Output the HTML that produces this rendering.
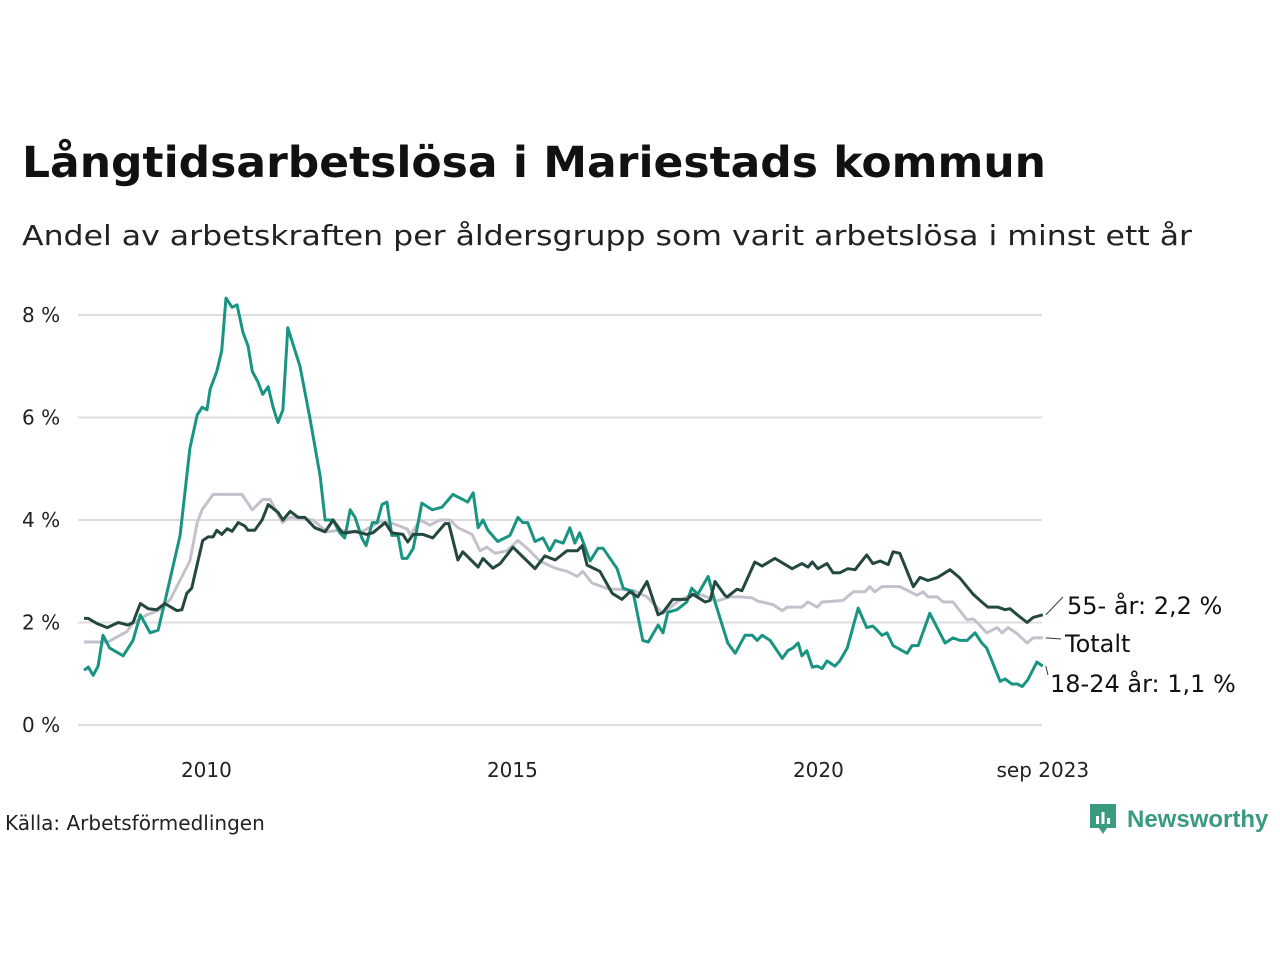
<!DOCTYPE html>
<html><head><meta charset="utf-8">
<style>
body{margin:0;background:#fff;font-family:"DejaVu Sans","Liberation Sans",sans-serif;}
#wrap{position:relative;width:1280px;height:960px;overflow:hidden;background:#fff}
.src{position:absolute;left:5px;top:811px;font-size:20px;color:#222;font-family:"DejaVu Sans",sans-serif}
</style></head><body>
<div id="wrap">
<svg id="chart" width="1280" height="960" style="position:absolute;left:0;top:0">
<text x="22" y="177" font-size="43" font-weight="bold" fill="#111" font-family="DejaVu Sans, sans-serif" textLength="1024" lengthAdjust="spacingAndGlyphs">Långtidsarbetslösa i Mariestads kommun</text>
<text x="22" y="245" font-size="28" fill="#222" font-family="DejaVu Sans, sans-serif" textLength="1170" lengthAdjust="spacingAndGlyphs">Andel av arbetskraften per åldersgrupp som varit arbetslösa i minst ett år</text>
</svg>
<div class="src">Källa: Arbetsförmedlingen</div>
<div style="position:absolute;left:1088px;top:802px;height:36px;display:flex;align-items:center">
<svg width="30" height="36" viewBox="0 0 30 36"><path d="M2 2h26v24h-9l-4 6-4-6H2z" fill="#3a9a80"/><rect x="8" y="14" width="3" height="8" fill="#fff"/><rect x="13.5" y="10" width="3" height="12" fill="#fff"/><rect x="19" y="16" width="3" height="6" fill="#fff"/></svg>
<span style="font-size:24px;font-weight:bold;color:#3a9a80;margin-left:9px;font-family:'Liberation Sans',sans-serif">Newsworthy</span>
</div>
</div>
<script>
const yTicks=[0,2,4,6,8];
const xTickYears=[2010,2015,2020,2023.667];
const xTickLabels=["2010","2015","2020","sep 2023"];
const youthDates=[2008.0,2008.07,2008.15,2008.23,2008.31,2008.42,2008.64,2008.80,2008.92,2009.08,2009.21,2009.32,2009.57,2009.73,2009.85,2009.93,2010.01,2010.06,2010.17,2010.25,2010.32,2010.42,2010.50,2010.60,2010.68,2010.75,2010.84,2010.92,2011.01,2011.09,2011.17,2011.25,2011.33,2011.53,2011.69,2011.86,2011.94,2012.07,2012.18,2012.26,2012.35,2012.43,2012.54,2012.61,2012.71,2012.79,2012.87,2012.95,2013.03,2013.13,2013.20,2013.28,2013.38,2013.52,2013.69,2013.85,2014.03,2014.27,2014.36,2014.44,2014.52,2014.60,2014.76,2014.96,2015.09,2015.17,2015.25,2015.37,2015.50,2015.61,2015.70,2015.83,2015.94,2016.02,2016.10,2016.27,2016.40,2016.48,2016.71,2016.81,2016.97,2017.13,2017.22,2017.38,2017.46,2017.54,2017.69,2017.85,2017.93,2018.03,2018.20,2018.31,2018.52,2018.64,2018.80,2018.92,2019.00,2019.08,2019.21,2019.41,2019.50,2019.58,2019.67,2019.73,2019.81,2019.90,2019.98,2020.06,2020.14,2020.27,2020.35,2020.47,2020.65,2020.79,2020.89,2021.04,2021.12,2021.22,2021.37,2021.45,2021.53,2021.63,2021.82,2021.94,2022.07,2022.20,2022.31,2022.43,2022.56,2022.67,2022.75,2022.97,2023.05,2023.16,2023.25,2023.33,2023.42,2023.57,2023.667];
const youthValues=[1.07,1.13,0.97,1.15,1.75,1.5,1.35,1.65,2.15,1.8,1.85,2.4,3.7,5.4,6.05,6.2,6.15,6.55,6.9,7.3,8.33,8.15,8.2,7.65,7.4,6.9,6.7,6.45,6.6,6.2,5.9,6.15,7.75,7.0,6.0,4.85,4.0,4.0,3.75,3.65,4.2,4.05,3.65,3.5,3.95,3.95,4.3,4.35,3.7,3.7,3.25,3.25,3.45,4.33,4.2,4.25,4.5,4.35,4.53,3.85,4.0,3.8,3.58,3.7,4.05,3.95,3.95,3.58,3.65,3.4,3.6,3.55,3.85,3.55,3.75,3.2,3.45,3.45,3.05,2.67,2.6,1.65,1.62,1.95,1.8,2.2,2.25,2.4,2.67,2.55,2.9,2.4,1.6,1.4,1.75,1.75,1.65,1.75,1.65,1.3,1.45,1.5,1.6,1.35,1.45,1.13,1.15,1.1,1.25,1.15,1.25,1.5,2.28,1.9,1.93,1.75,1.8,1.55,1.45,1.4,1.55,1.55,2.18,1.9,1.6,1.7,1.65,1.65,1.8,1.6,1.5,0.85,0.9,0.8,0.8,0.75,0.88,1.23,1.15];
const seniorDates=[2008.0,2008.07,2008.21,2008.38,2008.56,2008.72,2008.80,2008.92,2009.05,2009.19,2009.32,2009.52,2009.60,2009.68,2009.76,2009.94,2010.03,2010.11,2010.17,2010.25,2010.34,2010.42,2010.52,2010.63,2010.68,2010.79,2010.91,2011.01,2011.17,2011.25,2011.37,2011.50,2011.61,2011.77,2011.94,2012.07,2012.22,2012.30,2012.43,2012.62,2012.72,2012.92,2013.03,2013.21,2013.29,2013.38,2013.54,2013.70,2013.90,2013.96,2014.11,2014.19,2014.44,2014.52,2014.68,2014.80,2015.01,2015.24,2015.37,2015.53,2015.70,2015.89,2016.06,2016.14,2016.22,2016.43,2016.63,2016.79,2016.92,2017.05,2017.20,2017.38,2017.46,2017.62,2017.85,2017.95,2018.15,2018.23,2018.31,2018.47,2018.51,2018.67,2018.75,2018.96,2019.08,2019.29,2019.57,2019.73,2019.83,2019.90,2019.99,2020.14,2020.24,2020.35,2020.48,2020.60,2020.79,2020.89,2021.01,2021.14,2021.22,2021.33,2021.55,2021.66,2021.79,2021.95,2022.15,2022.31,2022.53,2022.67,2022.77,2022.93,2023.05,2023.13,2023.25,2023.41,2023.51,2023.667];
const seniorValues=[2.08,2.08,1.98,1.9,2.0,1.95,2.0,2.37,2.27,2.25,2.37,2.23,2.25,2.57,2.67,3.6,3.67,3.67,3.8,3.72,3.83,3.78,3.95,3.88,3.8,3.8,4.0,4.3,4.15,4.0,4.17,4.05,4.05,3.85,3.77,4.0,3.75,3.75,3.78,3.72,3.75,3.95,3.75,3.72,3.57,3.72,3.72,3.65,3.93,3.93,3.22,3.38,3.08,3.25,3.06,3.15,3.47,3.2,3.05,3.3,3.22,3.4,3.4,3.5,3.12,3.0,2.57,2.45,2.6,2.5,2.8,2.15,2.2,2.45,2.45,2.55,2.4,2.43,2.8,2.53,2.5,2.65,2.62,3.18,3.1,3.25,3.05,3.15,3.08,3.18,3.05,3.15,2.97,2.97,3.05,3.03,3.32,3.15,3.2,3.13,3.38,3.35,2.7,2.88,2.82,2.88,3.03,2.87,2.55,2.4,2.3,2.3,2.25,2.27,2.15,2.0,2.1,2.15];
const totalDates=[2008.0,2008.39,2008.54,2008.70,2008.80,2009.03,2009.24,2009.41,2009.73,2009.85,2009.93,2010.11,2010.58,2010.75,2010.92,2011.04,2011.24,2011.37,2011.74,2011.97,2012.18,2012.51,2012.84,2013.05,2013.29,2013.33,2013.49,2013.65,2013.82,2013.98,2014.11,2014.34,2014.47,2014.58,2014.72,2014.91,2015.09,2015.24,2015.45,2015.70,2015.89,2016.06,2016.15,2016.30,2016.56,2016.97,2017.20,2017.46,2017.69,2017.93,2018.11,2018.34,2018.56,2018.72,2018.92,2019.00,2019.26,2019.41,2019.49,2019.73,2019.83,2019.98,2020.06,2020.40,2020.57,2020.76,2020.84,2020.92,2021.04,2021.33,2021.50,2021.61,2021.71,2021.79,2021.94,2022.04,2022.20,2022.43,2022.53,2022.61,2022.75,2022.92,2023.00,2023.10,2023.25,2023.41,2023.51,2023.667];
const totalValues=[1.62,1.62,1.72,1.82,1.98,2.15,2.25,2.45,3.2,3.95,4.2,4.5,4.5,4.2,4.4,4.4,3.95,4.05,4.0,3.77,3.8,3.75,3.97,3.93,3.82,3.7,4.0,3.9,4.0,4.0,3.85,3.72,3.4,3.47,3.35,3.4,3.6,3.45,3.2,3.06,3.0,2.9,3.0,2.77,2.66,2.63,2.5,2.18,2.4,2.55,2.53,2.42,2.5,2.5,2.48,2.42,2.35,2.23,2.3,2.3,2.4,2.3,2.4,2.43,2.6,2.6,2.7,2.6,2.7,2.7,2.6,2.53,2.6,2.5,2.5,2.4,2.4,2.05,2.07,1.98,1.8,1.9,1.8,1.9,1.78,1.6,1.7,1.7];

const NS="http://www.w3.org/2000/svg";
const svg=document.getElementById('chart');
const X0=84,PXY=61.2,Y0=725,PXV=51.25;
const FONT='DejaVu Sans, sans-serif';
function xScale(y){return X0+(y-2008)*PXY;}
function yScale(v){return Y0-v*PXV;}
function mk(tag,attrs){const e=document.createElementNS(NS,tag);for(const k in attrs)e.setAttribute(k,attrs[k]);svg.appendChild(e);return e;}
yTicks.forEach(t=>{
  const g=mk('line',{x1:78,x2:1042,y1:yScale(t),y2:yScale(t),stroke:'#dcdce0','stroke-width':2});
  
  
  const l=mk('text',{x:22,y:yScale(t)+7,'font-size':20,fill:'#222','font-family':FONT});
  l.textContent=t+' %';
  
  
});
xTickYears.forEach((yr,i)=>{
  const l=mk('text',{x:xScale(yr),y:777,'font-size':20,fill:'#222','text-anchor':'middle','font-family':FONT});
  l.textContent=xTickLabels[i];
  
  
});
function line(dates,vals,color,name){
  const d=dates.map((t,i)=>(i?'L':'M')+xScale(t).toFixed(1)+' '+yScale(vals[i]).toFixed(1)).join(' ');
  const p=mk('path',{d:d,fill:'none',stroke:color,'stroke-width':3,'stroke-linejoin':'round'});
  
  
}
line(totalDates,totalValues,'#c4c1cc','line-totalt');
line(youthDates,youthValues,'#1a9482','line-18-24');
line(seniorDates,seniorValues,'#24483e','line-55-plus');
const lastS=seniorValues[seniorValues.length-1],lastT=totalValues[totalValues.length-1],lastY=youthValues[youthValues.length-1];
const xe=xScale(2023.667);
[[lastS,606,1067,'55- år: 2,2 %','end-label-55',1063,597],[lastT,644,1065,'Totalt','end-label-totalt',1061,639],[lastY,684,1050,'18-24 år: 1,1 %','end-label-18-24',1048,675]].forEach(a=>{
  const ln=mk('line',{x1:xe+3,y1:yScale(a[0]),x2:a[5],y2:a[6],stroke:'#333','stroke-width':1});
  
  
  const t=mk('text',{x:a[2],y:a[1]+8,'font-size':24,fill:'#111','font-family':FONT});
  t.textContent=a[3];
  
  
});
</script>
</body></html>
